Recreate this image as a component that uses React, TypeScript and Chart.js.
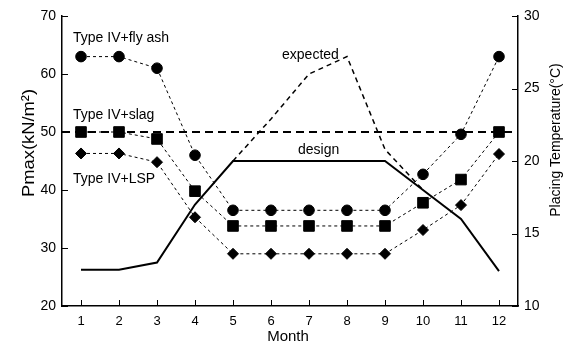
import React, { useEffect, useRef } from 'react';
import { Chart, registerables } from 'chart.js';

Chart.register(...registerables);

// ---- data ----
const MONTHS = [1, 2, 3, 4, 5, 6, 7, 8, 9, 10, 11, 12];
const FLY_ASH = [63, 63, 61, 46, 36.5, 36.5, 36.5, 36.5, 36.5, 42.7, 49.6, 63];
const SLAG = [50, 50, 48.8, 39.8, 33.8, 33.8, 33.8, 33.8, 33.8, 37.8, 41.8, 50];
const LSP = [46.3, 46.3, 44.8, 35.3, 29, 29, 29, 29, 29, 33.1, 37.4, 46.2];
const DESIGN_TEMP = [12.5, 12.5, 13, 17, 20, 20, 20, 20, 20, 18, 16, 12.4];
const EXPECTED_TEMP = [null, null, null, null, 20, 22.9, 26, 27.2, 20.8, 18, null, null];
const LIMIT_PMAX = 50;
const PMAX_TICKS = [20, 30, 40, 50, 60, 70];
const TEMP_TICKS = [10, 15, 20, 25, 30];
const SERIES_NAMES = ['Type IV+fly ash', 'Type IV+slag', 'Type IV+LSP'];
const CURVE_NAMES = ['expected', 'design'];

const FONT = '"Liberation Sans", Arial, Helvetica, sans-serif';

const toPoints = (ys: (number | null)[]) =>
  MONTHS.map((m, i) => ({ x: m, y: ys[i] }));

const overlayPlugin = {
  id: 'overlay',
  afterDraw(chart: any) {
    const { ctx, chartArea, scales } = chart;
    const xs = scales.x;
    const ys = scales.y;
    const y1 = scales.y1;
    ctx.save();
    ctx.strokeStyle = '#000';
    ctx.lineWidth = 1;
    const T = 6;
    ctx.beginPath();
    xs.ticks.forEach((t: any) => {
      const px = Math.round(xs.getPixelForValue(t.value)) + 0.5;
      ctx.moveTo(px, chartArea.bottom);
      ctx.lineTo(px, chartArea.bottom - T);
    });
    ys.ticks.forEach((t: any) => {
      const py = Math.round(ys.getPixelForValue(t.value)) + 0.5;
      ctx.moveTo(chartArea.left, py);
      ctx.lineTo(chartArea.left + T, py);
    });
    y1.ticks.forEach((t: any) => {
      const py = Math.round(y1.getPixelForValue(t.value)) + 0.5;
      ctx.moveTo(chartArea.right, py);
      ctx.lineTo(chartArea.right - T, py);
    });
    ctx.stroke();

    // annotations
    ctx.fillStyle = '#000';
    ctx.font = `14px ${FONT}`;
    ctx.textAlign = 'left';
    ctx.textBaseline = 'middle';
    const lx = xs.getPixelForValue(0.79);
    ctx.fillText(SERIES_NAMES[0], lx, ys.getPixelForValue(66.2));
    ctx.fillText(SERIES_NAMES[1], lx, ys.getPixelForValue(52.9));
    ctx.fillText(SERIES_NAMES[2], lx, ys.getPixelForValue(41.9));
    ctx.fillText(CURVE_NAMES[0], xs.getPixelForValue(6.29), ys.getPixelForValue(63.3));
    ctx.fillText(CURVE_NAMES[1], xs.getPixelForValue(6.71), ys.getPixelForValue(46.9));

    // axis titles
    ctx.textAlign = 'center';
    ctx.font = `15px ${FONT}`;
    ctx.fillText('Month', (chartArea.left + chartArea.right) / 2 - 2, chartArea.bottom + 31);

    ctx.save();
    ctx.translate(29, (chartArea.top + chartArea.bottom) / 2 - 18);
    ctx.rotate(-Math.PI / 2);
    ctx.scale(1.08, 1);
    ctx.font = `17px ${FONT}`;
    ctx.fillText('Pmax(kN/m²)', 0, 0);
    ctx.restore();

    ctx.save();
    ctx.translate(556, (chartArea.top + chartArea.bottom) / 2 - 21);
    ctx.rotate(-Math.PI / 2);
    ctx.font = `14px ${FONT}`;
    ctx.fillText('Placing Temperature(°C)', 0, 0);
    ctx.restore();

    ctx.restore();
  },
};

export default function App() {
  const ref = useRef<HTMLCanvasElement | null>(null);

  useEffect(() => {
    const canvas = ref.current;
    if (!canvas) return;
    const dotted = {
      borderColor: '#000',
      backgroundColor: '#000',
      borderWidth: 1,
      borderDash: [3, 3],
      pointBorderWidth: 1,
      pointBorderColor: '#000',
      pointBackgroundColor: '#000',
      yAxisID: 'y',
    };
    const chart = new Chart(canvas, {
      type: 'line',
      data: {
        datasets: [
          {
            label: 'design',
            data: toPoints(DESIGN_TEMP),
            yAxisID: 'y1',
            borderColor: '#000',
            borderWidth: 2,
            pointRadius: 0,
          },
          {
            label: 'expected',
            data: toPoints(EXPECTED_TEMP),
            yAxisID: 'y1',
            borderColor: '#000',
            borderWidth: 1.5,
            borderDash: [5, 4],
            pointRadius: 0,
            spanGaps: false,
          },
          {
            label: 'limit',
            data: [
              { x: 0.5, y: LIMIT_PMAX },
              { x: 12.5, y: LIMIT_PMAX },
            ],
            yAxisID: 'y',
            borderColor: '#000',
            borderWidth: 2.2,
            borderDash: [8, 5],
            pointRadius: 0,
          },
          {
            ...dotted,
            label: SERIES_NAMES[0],
            data: toPoints(FLY_ASH),
            pointStyle: 'circle',
            pointRadius: 5.3,
          },
          {
            ...dotted,
            label: SERIES_NAMES[1],
            data: toPoints(SLAG),
            pointStyle: 'rect',
            pointRadius: 7.5,
          },
          {
            ...dotted,
            label: SERIES_NAMES[2],
            data: toPoints(LSP),
            pointStyle: 'rectRot',
            pointRadius: 5.5,
          },
        ] as any,
      },
      options: {
        animation: false,
        responsive: false,
        events: [],
        layout: { padding: { top: 16, left: 0, right: 0, bottom: 0 } },
        plugins: {
          legend: { display: false },
          tooltip: { enabled: false },
        },
        scales: {
          x: {
            type: 'linear',
            min: 0.5,
            max: 12.5,
            afterBuildTicks: (s: any) => {
              s.ticks = MONTHS.map((v) => ({ value: v }));
            },
            afterFit: (s: any) => {
              s.height = 43;
            },
            grid: { display: true, drawOnChartArea: false, drawTicks: false },
            border: { display: true, color: '#000', width: 1.5 },
            ticks: {
              color: '#000',
              padding: 8,
              font: { family: FONT, size: 13 },
              maxRotation: 0,
            },
          },
          y: {
            type: 'linear',
            position: 'left',
            min: 20,
            max: 70,
            afterBuildTicks: (s: any) => {
              s.ticks = PMAX_TICKS.map((v) => ({ value: v }));
            },
            afterFit: (s: any) => {
              s.width = 62;
            },
            grid: { display: true, drawOnChartArea: false, drawTicks: false },
            border: { display: true, color: '#000', width: 1.5 },
            ticks: {
              color: '#000',
              padding: 6,
              font: { family: FONT, size: 14 },
            },
          },
          y1: {
            type: 'linear',
            position: 'right',
            min: 10,
            max: 30,
            afterBuildTicks: (s: any) => {
              s.ticks = TEMP_TICKS.map((v) => ({ value: v }));
            },
            afterFit: (s: any) => {
              s.width = 49;
            },
            grid: { display: true, drawOnChartArea: false, drawTicks: false },
            border: { display: true, color: '#000', width: 1.5 },
            ticks: {
              color: '#000',
              padding: 6,
              font: { family: FONT, size: 14 },
            },
          },
        },
      } as any,
      plugins: [overlayPlugin],
    });
    return () => chart.destroy();
  }, []);

  return (
    <div style={{ position: 'absolute', left: 0, top: 0, width: 567, height: 349, background: '#fff' }}>
      <canvas ref={ref} width={567} height={349} style={{ display: 'block' }} />
    </div>
  );
}
